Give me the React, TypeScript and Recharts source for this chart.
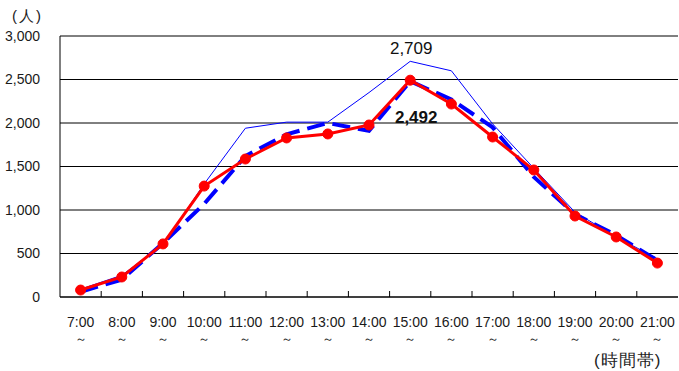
import { LineChart, Line, XAxis, YAxis, CartesianGrid } from 'recharts';

const hours = ['7:00', '8:00', '9:00', '10:00', '11:00', '12:00', '13:00', '14:00', '15:00', '16:00', '17:00', '18:00', '19:00', '20:00', '21:00'];
const thinBlue = [90, 250, 600, 1300, 1940, 2010, 2010, 2350, 2709, 2600, 1990, 1480, 975, 690, 440];
const dashedBlue = [60, 200, 620, 1070, 1620, 1870, 2000, 1910, 2480, 2270, 1950, 1380, 950, 710, 420];
const redLine = [80, 230, 610, 1275, 1586, 1828, 1874, 1977, 2492, 2218, 1839, 1460, 931, 690, 390];
const yTicks = [0, 500, 1000, 1500, 2000, 2500, 3000];

const W = 679;
const H = 371;
const LEFT = 60;
const RIGHT = 1;
const BAND = (W - LEFT - RIGHT) / hours.length;
const FONT = '"Liberation Sans", Arial, sans-serif';

const data = hours.map((h, i) => ({ hour: h, thin: thinBlue[i], dashed: dashedBlue[i], red: redLine[i] }));

const HourTick = (props: any) => {
  const { x, y, payload, index } = props;
  return (
    <g>
      {index > 0 && <line x1={x - BAND / 2} x2={x - BAND / 2} y1={y - 6} y2={y} stroke="#000" strokeWidth={1} />}
      <text x={x} y={y + 30} textAnchor="middle" fontSize={14} fill="#1a1a1a" fontFamily={FONT}>{payload.value}</text>
      <text x={x} y={y + 46} textAnchor="middle" fontSize={12} fill="#1a1a1a" fontFamily={FONT}>～</text>
    </g>
  );
};

const peakLabel = (values: number[], text: string, dx: number, dy: number, bold: boolean) => (props: any) => {
  const { x, y, index } = props;
  const max = Math.max(...values);
  if (values[index] !== max) return null;
  return (
    <text x={x + dx} y={y + dy} textAnchor="middle" fontSize={17} fontWeight={bold ? 'bold' : 'normal'} fill="#111" fontFamily={FONT}>
      {text}
    </text>
  );
};

export default function App() {
  return (
    <div style={{ position: 'absolute', left: 0, top: 0, width: W, height: H, background: '#fff', fontFamily: FONT }}>
      <div style={{ position: 'absolute', left: 12, top: 7, fontSize: 15, letterSpacing: 2, color: '#222' }}>(人)</div>
      <div style={{ position: 'absolute', left: 594, top: 349, fontSize: 17, letterSpacing: 1, color: '#222' }}>(時間帯)</div>
      <LineChart width={W} height={H} data={data} margin={{ top: 36, right: RIGHT, left: 0, bottom: 34 }}>
        <CartesianGrid horizontal vertical={false} stroke="#000" strokeWidth={1} />
        <XAxis
          dataKey="hour"
          height={40}
          padding={{ left: BAND / 2, right: BAND / 2 }}
          axisLine={{ stroke: '#000' }}
          tickLine={false}
          tickSize={0}
          tickMargin={0}
          tick={<HourTick />}
          interval={0}
        />
        <YAxis
          width={LEFT}
          domain={[0, 3000]}
          ticks={yTicks}
          interval={0}
          axisLine={{ stroke: '#000' }}
          tickLine={false}
          tickMargin={14}
          tick={{ fontSize: 14, fill: '#1a1a1a', fontFamily: FONT }}
          tickFormatter={(v: number) => v.toLocaleString('en-US')}
        />
        <YAxis yAxisId="r" orientation="right" width={0} domain={[0, 3000]} axisLine={{ stroke: '#000' }} tick={false} tickLine={false} />
        <Line dataKey="thin" stroke="#0000ff" strokeWidth={1} dot={false} isAnimationActive={false} label={peakLabel(thinBlue, '2,709', 1, -7, false)} />
        <Line dataKey="dashed" stroke="#0000ff" strokeWidth={4} strokeDasharray="18 8" dot={false} isAnimationActive={false} />
        <Line dataKey="red" stroke="#ff0000" strokeWidth={3} dot={{ r: 5, fill: '#ff0000', stroke: '#ff0000', strokeWidth: 1 }} isAnimationActive={false} label={peakLabel(redLine, '2,492', 6, 43, true)} />
      </LineChart>
    </div>
  );
}
